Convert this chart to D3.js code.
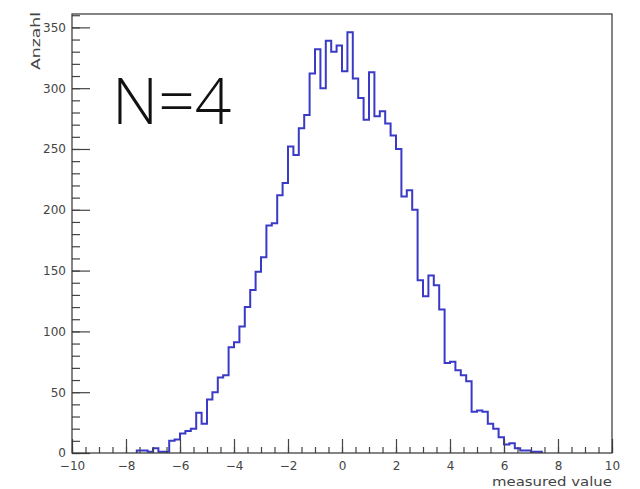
<!DOCTYPE html>
<html>
<head>
<meta charset="utf-8">
<script src="https://cdn.jsdelivr.net/npm/d3@7"></script>
<style>
  body { margin: 0; background: #fff; }
  .tick text { font-family: "DejaVu Sans", sans-serif; font-size: 12px; fill: #444; }
  .tick line { stroke: #444; stroke-width: 1.2; }
</style>
</head>
<body>
<div id="chart"></div>
<script>
// Histogram binning (100 bins from -10 to 10)
const binStart = -10;
const binWidth = 0.2;

// Counts per bin
const counts = [
    0, 0, 0, 0, 0, 0, 0, 0, 0, 0,
    0, 0, 2, 2, 1, 4, 1, 1, 10, 11,
    16, 18, 20, 33, 24, 44, 50, 62, 64, 87,
    91, 104, 120, 134, 149, 161, 187, 189, 212, 222,
    252, 245, 267, 278, 312, 332, 300, 339, 330, 335,
    314, 346, 308, 292, 274, 313, 277, 281, 271, 261,
    250, 211, 216, 200, 142, 129, 146, 138, 118, 74,
    75, 68, 64, 59, 34, 35, 34, 24, 20, 13,
    7, 8, 4, 2, 2, 1, 1, 0, 0, 0,
    0, 0, 0, 0, 0, 0, 0, 0, 0, 0
];

// Tick values
const xMajorTicks = [-10, -8, -6, -4, -2, 0, 2, 4, 6, 8, 10];
const yMajorTicks = [0, 50, 100, 150, 200, 250, 300, 350];

const xTitle = 'measured value';
const yTitle = 'Anzahl';
const label = 'N=4';

const width = 640, height = 489;
const frame = { left: 72, right: 612, top: 14, bottom: 453 };

const svg = d3.select('#chart')
    .append('svg')
    .attr('width', width)
    .attr('height', height);

const x = d3.scaleLinear().domain([-10, 10]).range([frame.left, frame.right]);
const y = d3.scaleLinear().domain([0, 361]).range([frame.bottom, frame.top]);

// Histogram outline, only over the filled range
const first = counts.findIndex(c => c > 0);
const last = counts.length - 1 - [...counts].reverse().findIndex(c => c > 0);
const pts = [[binStart + first * binWidth, 0]];
for (let i = first; i <= last; i++) {
    pts.push([binStart + i * binWidth, counts[i]]);
}
pts.push([binStart + (last + 1) * binWidth, counts[last]]);
pts.push([binStart + (last + 1) * binWidth, 0]);

const line = d3.line()
    .x(d => x(d[0]))
    .y(d => y(d[1]))
    .curve(d3.curveStepAfter);

svg.append('path')
    .datum(pts)
    .attr('d', line)
    .attr('fill', 'none')
    .attr('stroke', '#3a3ac6')
    .attr('stroke-width', 2);

// Minor ticks
svg.append('g')
    .attr('transform', `translate(0,${frame.bottom})`)
    .call(d3.axisBottom(x).tickValues(d3.range(-10, 10.001, 0.5)).tickSize(-6).tickSizeOuter(0).tickFormat(''))
    .call(g => g.select('.domain').remove());

svg.append('g')
    .attr('transform', `translate(${frame.left},0)`)
    .call(d3.axisLeft(y).tickValues(d3.range(0, 361, 10)).tickSize(-8).tickSizeOuter(0).tickFormat(''))
    .call(g => g.select('.domain').remove());

// Major ticks with labels
svg.append('g')
    .attr('transform', `translate(0,${frame.bottom})`)
    .call(d3.axisBottom(x).tickValues(xMajorTicks).tickSize(-14).tickSizeOuter(0).tickPadding(8))
    .call(g => g.select('.domain').remove());

svg.append('g')
    .attr('transform', `translate(${frame.left},0)`)
    .call(d3.axisLeft(y).tickValues(yMajorTicks).tickSize(-18).tickSizeOuter(0).tickPadding(6))
    .call(g => g.select('.domain').remove());

// Frame
svg.append('rect')
    .attr('x', frame.left)
    .attr('y', frame.top)
    .attr('width', frame.right - frame.left)
    .attr('height', frame.bottom - frame.top)
    .attr('fill', 'none')
    .attr('stroke', '#333')
    .attr('stroke-width', 1.2);

// Axis titles
svg.append('text')
    .attr('x', frame.right)
    .attr('y', 486)
    .attr('text-anchor', 'end')
    .attr('textLength', 120)
    .attr('lengthAdjust', 'spacingAndGlyphs')
    .style('font-family', '"DejaVu Sans", sans-serif')
    .style('font-size', '12px')
    .style('fill', '#444')
    .text(xTitle);

svg.append('text')
    .attr('transform', 'translate(40,70) rotate(-90)')
    .attr('text-anchor', 'start')
    .attr('textLength', 58)
    .attr('lengthAdjust', 'spacingAndGlyphs')
    .style('font-family', '"DejaVu Sans", sans-serif')
    .style('font-size', '12px')
    .style('fill', '#444')
    .text(yTitle);

// Big label
svg.append('text')
    .attr('x', 112)
    .attr('y', 124)
    .style('font-family', '"Open Sans", sans-serif')
    .style('font-weight', 300)
    .style('font-size', '64px')
    .style('fill', '#111')
    .text(label);
</script>
</body>
</html>
